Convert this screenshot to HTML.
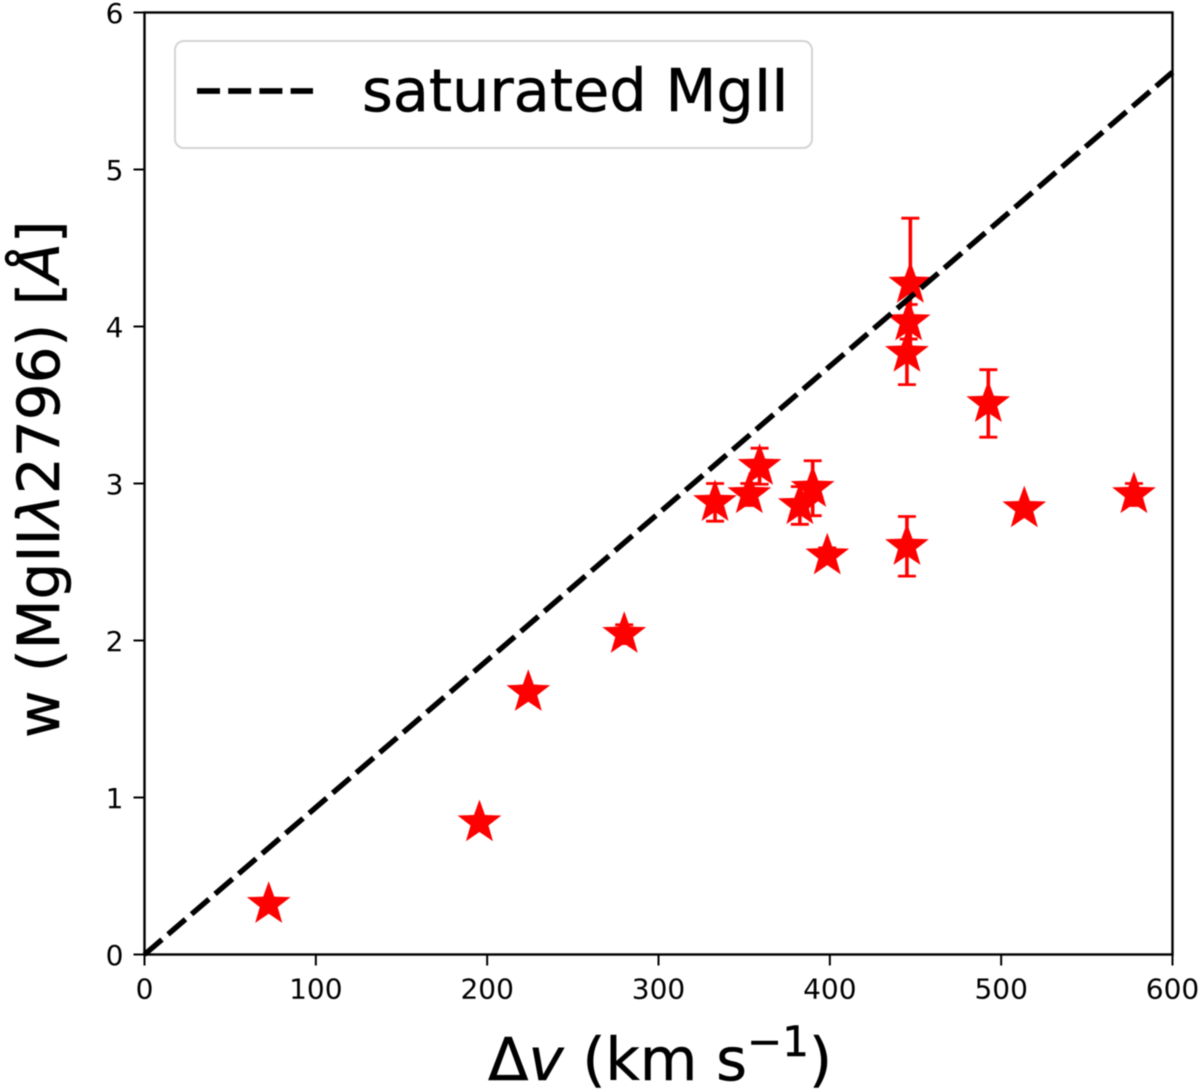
<!DOCTYPE html>
<html lang="en">
<head>
<meta charset="utf-8">
<title>Saturated MgII chart</title>
<style>
html,body{margin:0;padding:0;background:#fff;}
#chart{display:block;width:1200px;height:1090px;filter:blur(0.6px);}
text{font-family:"DejaVu Sans","Liberation Sans",sans-serif;fill:#000;}
.tick-label{font-size:28px;}
.axis-title{font-size:58px;stroke:#000;stroke-width:0.5px;}
</style>
</head>
<body>
<svg id="chart" xmlns="http://www.w3.org/2000/svg" width="1200" height="1090" viewBox="0 0 1200 1090">
  <rect x="0" y="0" width="1200" height="1090" fill="#fff"/>
  <g id="errors"></g>
  <g id="stars"></g>
  <line id="satLine" stroke="#000" stroke-width="5.4" stroke-dasharray="23 8" fill="none"/>
  <rect x="144.5" y="12.5" width="1028" height="942" fill="none" stroke="#000" stroke-width="2.4"/>
  <g id="ticks"></g>
  <g>
    <rect x="175" y="41" width="637" height="107" rx="9" ry="9" fill="#fff" fill-opacity="0.8" stroke="#d4d4d4" stroke-width="2"/>
    <line x1="197" y1="91" x2="313" y2="91" stroke="#000" stroke-width="5.8" stroke-dasharray="23 8.2"/>
    <text x="362" y="111" font-size="59px" stroke="#000" stroke-width="0.5">saturated MgII</text>
  </g>
  <text class="axis-title" x="488" y="1080" style="font-size:59.2px">Δ<tspan font-style="italic">v</tspan> (km s<tspan font-size="42px" dy="-24">−1</tspan><tspan dy="24">)</tspan></text>
  <text class="axis-title" transform="translate(59,738) rotate(-90)" x="0" y="0">w (MgII<tspan font-style="italic">λ</tspan>2796) [<tspan font-style="italic">Å</tspan>]</text>
</svg>
<script>
const xTickValues = [0, 100, 200, 300, 400, 500, 600];
const yTickValues = [0, 1, 2, 3, 4, 5, 6];
const deltaV = [72.5, 195.5, 224, 280, 333, 353, 359, 382.5, 390, 398.5, 445, 513.5, 577.5, 445, 446, 447, 492.5];
const widthW = [0.32, 0.84, 1.67, 2.04, 2.88, 2.93, 3.11, 2.86, 2.97, 2.54, 2.60, 2.84, 2.93, 3.83, 4.03, 4.27, 3.51];
const errW = [0.03, 0.04, 0.04, 0.06, 0.12, 0.07, 0.115, 0.12, 0.175, 0.05, 0.19, 0.03, 0.07, 0.20, 0.11, 0.42, 0.215];
const lineX = [0, 600];
const lineY = [0, 5.62];

const NS = 'http://www.w3.org/2000/svg';
const plotLeft = 144.5, plotRight = 1172.5, plotTop = 12.5, plotBottom = 954.5;
const xDomainMax = 600, yDomainMax = 6;
function xScale(v) { return plotLeft + (v / xDomainMax) * (plotRight - plotLeft); }
function yScale(v) { return plotBottom - (v / yDomainMax) * (plotBottom - plotTop); }
function starPoints(cx, cy, outer) {
  const inner = outer * 0.41;
  const pts = [];
  for (let i = 0; i < 10; i++) {
    const r = i % 2 === 0 ? outer : inner;
    const a = -Math.PI / 2 + i * Math.PI / 5;
    pts.push((cx + r * Math.cos(a)).toFixed(2) + ',' + (cy + r * Math.sin(a)).toFixed(2));
  }
  return pts.join(' ');
}
function svgLine(x1, y1, x2, y2, stroke, width) {
  const l = document.createElementNS(NS, 'line');
  l.setAttribute('x1', x1);
  l.setAttribute('y1', y1);
  l.setAttribute('x2', x2);
  l.setAttribute('y2', y2);
  l.setAttribute('stroke', stroke);
  l.setAttribute('stroke-width', width);
  return l;
}

const ticksGroup = document.getElementById('ticks');
xTickValues.forEach(function (v) {
  const px = xScale(v);
  const mark = svgLine(px, plotBottom, px, plotBottom + 11, '#000', 2);
  
  
  ticksGroup.appendChild(mark);
  const label = document.createElementNS(NS, 'text');
  
  
  label.setAttribute('class', 'tick-label');
  label.setAttribute('x', px);
  label.setAttribute('y', plotBottom + 44);
  label.setAttribute('text-anchor', 'middle');
  label.textContent = String(v);
  ticksGroup.appendChild(label);
});
yTickValues.forEach(function (v) {
  const py = yScale(v);
  const mark = svgLine(plotLeft - 11, py, plotLeft, py, '#000', 2);
  
  
  ticksGroup.appendChild(mark);
  const label = document.createElementNS(NS, 'text');
  
  
  label.setAttribute('class', 'tick-label');
  label.setAttribute('x', plotLeft - 21);
  label.setAttribute('y', py + 10.5);
  label.setAttribute('text-anchor', 'end');
  label.textContent = String(v);
  ticksGroup.appendChild(label);
});

const errorsGroup = document.getElementById('errors');
const starsGroup = document.getElementById('stars');
deltaV.forEach(function (v, i) {
  const px = xScale(v);
  const pyTop = yScale(widthW[i] + errW[i]);
  const pyBottom = yScale(widthW[i] - errW[i]);
  const stem = svgLine(px, pyTop, px, pyBottom, '#f00', 3.6);
  
  
  errorsGroup.appendChild(stem);
  const capTop = svgLine(px - 9, pyTop, px + 9, pyTop, '#f00', 2.8);
  
  
  errorsGroup.appendChild(capTop);
  const capBottom = svgLine(px - 9, pyBottom, px + 9, pyBottom, '#f00', 2.8);
  
  
  errorsGroup.appendChild(capBottom);
  const star = document.createElementNS(NS, 'polygon');
  
  
  star.setAttribute('points', starPoints(px, yScale(widthW[i]), 23));
  star.setAttribute('fill', '#f00');
  starsGroup.appendChild(star);
});

const satLine = document.getElementById('satLine');
satLine.setAttribute('x1', xScale(lineX[0]));
satLine.setAttribute('y1', yScale(lineY[0]));
satLine.setAttribute('x2', xScale(lineX[1]));
satLine.setAttribute('y2', yScale(lineY[1]));
</script>
</body>
</html>
